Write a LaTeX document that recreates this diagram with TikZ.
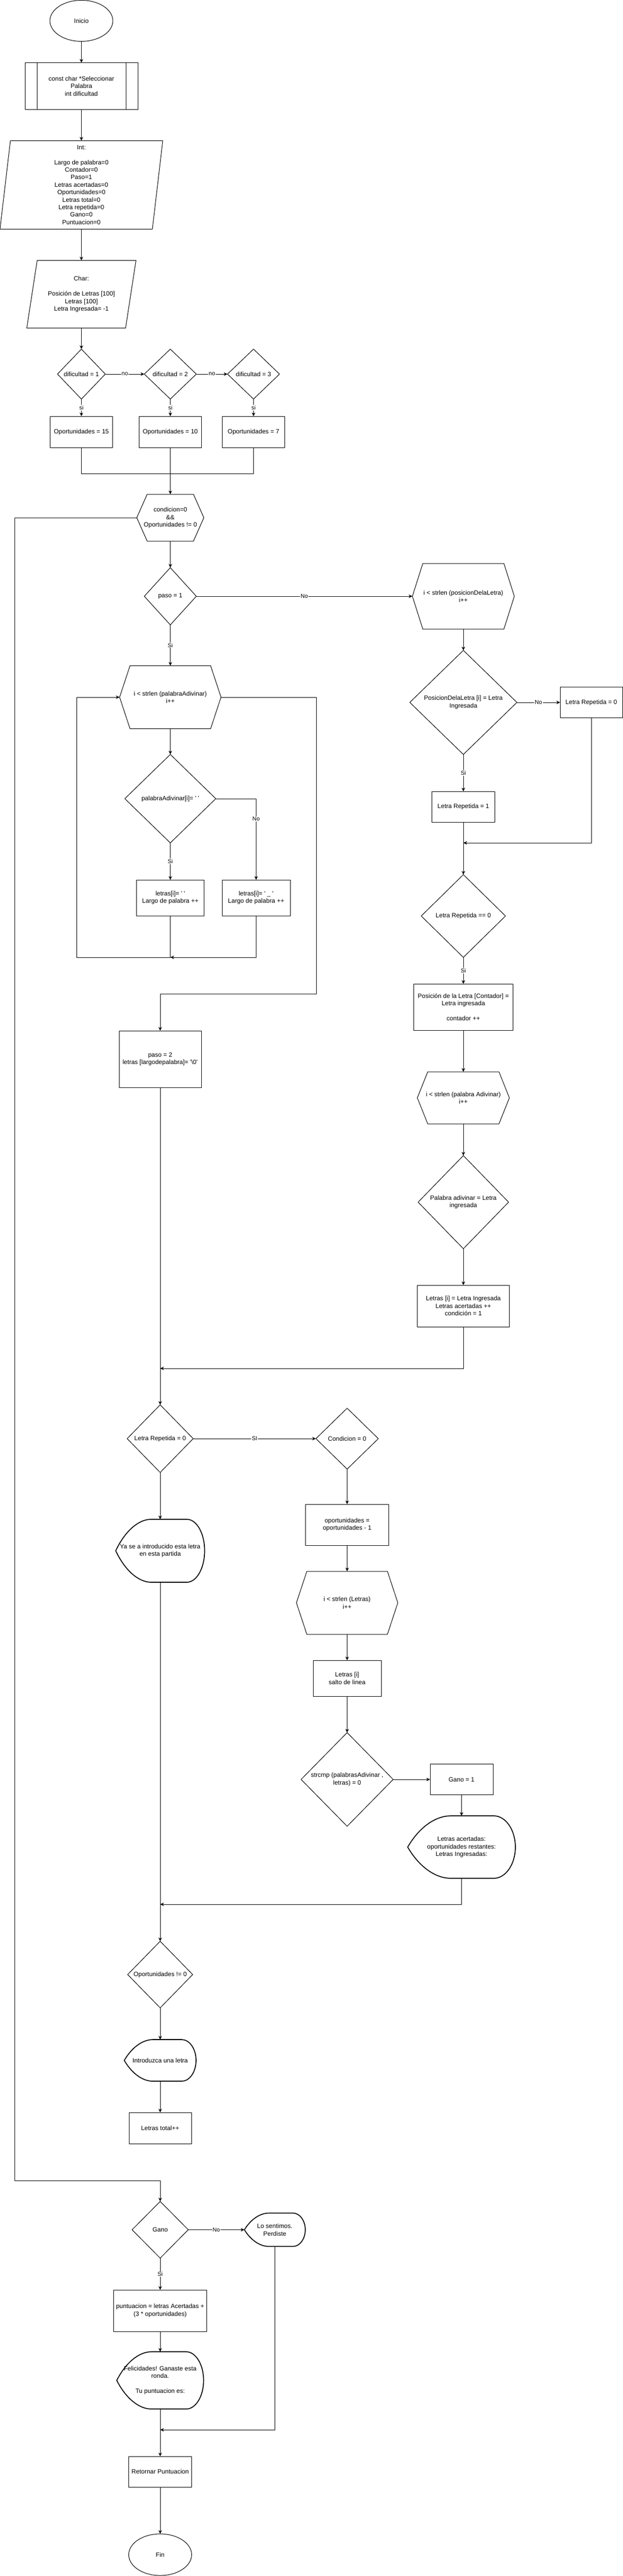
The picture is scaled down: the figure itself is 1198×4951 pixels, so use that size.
\documentclass[tikz,border=0pt]{standalone}
\usepackage{fontspec}
\setmainfont{Liberation Sans}
\usetikzlibrary{arrows.meta,shapes.geometric,calc}
\newcommand\sq{\textquotesingle}
\tikzset{
  base/.style={inner sep=0pt, outer sep=0pt, font=\fontsize{12pt}{14.4pt}\selectfont, align=center, text=black},
  sz/.style 2 args={minimum width=#1pt, minimum height=#2pt},
  boxst/.style={base, rectangle, draw, line width=1pt},
  bare/.style={base, rectangle},
  elli/.style={base, ellipse, draw, line width=1pt},
  shp/.style={line width=1pt, line join=miter},
  dispst/.style={line width=1.7pt},
  ln/.style={line width=1pt},
  arr/.style={line width=1pt, -{Stealth[length=7pt,width=6.5pt,inset=2pt]}},
  lbl/.style={font=\fontsize{11pt}{13pt}\selectfont, fill=white, inner sep=1pt, text=black},
}
\newcommand\diaout[1]{\draw[shp] (#1.west) -- (#1.north) -- (#1.east) -- (#1.south) -- cycle;}
\newcommand\hexout[1]{\draw[shp] (#1.west) -- ([xshift=20pt]#1.north west) -- ([xshift=-20pt]#1.north east) -- (#1.east) -- ([xshift=-20pt]#1.south east) -- ([xshift=20pt]#1.south west) -- cycle;}
\newcommand\parout[1]{\draw[shp] ([xshift=20pt]#1.north west) -- (#1.north east) -- ([xshift=-20pt]#1.south east) -- (#1.south west) -- cycle;}
\newcommand\dispnode[6]{%
  \node[bare, sz={#4}{#5}] (#1) at (#2,#3) {#6};
  \begin{scope}[shift={({#2-#4/2},{#3-#5/2})}, x=#4pt, y=-#5pt]
    \draw[dispst] (0,0.5) .. controls (0.1,0.2) and (0.25,0) .. (0.4,0) -- (0.8,0)
      .. controls (0.91,0) and (1,0.224) .. (1,0.5) .. controls (1,0.776) and (0.91,1) .. (0.8,1)
      -- (0.4,1) .. controls (0.25,1) and (0.1,0.8) .. (0,0.5) -- cycle;
  \end{scope}}
\begin{document}
\begin{tikzpicture}[x=1pt,y=-1pt]
\fill[white] (0,0) rectangle (1198,4951);
\useasboundingbox (0,0) rectangle (1198,4951);

% ---------- top column ----------
\node[elli, sz={121}{79}] (inicio) at (156.5,40) {Inicio};
\node[boxst, sz={217}{90}] (sub) at (156.5,165.5) {const char *Seleccionar\\Palabra\\int dificultad};
\draw[ln] ([xshift=23pt]sub.north west) -- ([xshift=23pt]sub.south west);
\draw[ln] ([xshift=-23pt]sub.north east) -- ([xshift=-23pt]sub.south east);
\node[bare, sz={313}{170}] (int) at (156.5,355.3) {Int:\\[14.4pt]Largo de palabra=0\\Contador=0\\Paso=1\\Letras acertadas=0\\Oportunidades=0\\Letras total=0\\Letra repetida=0\\Gano=0\\Puntuacion=0};
\parout{int}
\node[bare, sz={210}{130}] (char) at (156.5,565.5) {Char:\\[14.4pt]Posición de Letras [100]\\Letras [100]\\Letra Ingresada= -1};
\parout{char}

\node[bare, sz={92}{96}] (d1) at (156.5,719) {dificultad = 1}; \diaout{d1}
\node[bare, sz={100}{96}] (d2) at (327.5,719) {dificultad = 2}; \diaout{d2}
\node[bare, sz={100}{96}] (d3) at (487.5,719) {dificultad = 3}; \diaout{d3}
\node[boxst, sz={120}{60}] (o15) at (156.5,830) {Oportunidades = 15};
\node[boxst, sz={120}{60}] (o10) at (327.5,830) {Oportunidades = 10};
\node[boxst, sz={120}{60}] (o7) at (487.5,830) {Oportunidades = 7};
\coordinate (m1) at (327.5,910);

\node[bare, sz={129}{90}] (cond) at (327.5,995) {condicion=0\\\&\&\\Oportunidades != 0}; \hexout{cond}
\node[bare, sz={100}{110}] (paso1) at (327.5,1146) {paso = 1}; \diaout{paso1}
\node[bare, sz={195}{121}] (hexL) at (327.5,1340) {i < strlen (palabraAdivinar)\\i++}; \hexout{hexL}
\node[bare, sz={175}{170}] (pal) at (327.5,1535) {palabraAdivinar[i]= \sq\ \sq}; \diaout{pal}
\node[boxst, sz={130}{69}] (b1) at (327.5,1725.5) {letras[i]= \sq\ \sq\\Largo de palabra ++};
\node[boxst, sz={131}{69}] (b2) at (492.5,1725.5) {letras[i]= \sq\ \_\ \sq\\Largo de palabra ++};
\node[boxst, sz={158}{109}] (paso2) at (308,2035.5) {paso = 2\\letras [largodepalabra]= \sq\textbackslash 0\sq};

% ---------- right column ----------
\node[bare, sz={196}{126}] (hexR) at (891,1146) {i < strlen (posicionDelaLetra)\\i++}; \hexout{hexR}
\node[bare, sz={206}{200}] (posL) at (891,1350) {PosicionDelaLetra [i] = Letra\\Ingresada}; \diaout{posL}
\node[boxst, sz={120}{59}] (lr0) at (1137,1350) {Letra Repetida = 0};
\node[boxst, sz={121}{59}] (lr1) at (891,1550.5) {Letra Repetida = 1};
\node[bare, sz={162}{159}] (lreq) at (891,1760.5) {Letra Repetida == 0}; \diaout{lreq}
\node[boxst, sz={191}{89}] (posbox) at (891,1935.5) {Posición de la Letra [Contador] =\\Letra ingresada\\[14.4pt]contador ++};
\node[bare, sz={177}{100}] (hexR2) at (891,2110) {i < strlen (palabra Adivinar)\\i++}; \hexout{hexR2}
\node[bare, sz={174}{179}] (padiv) at (891,2310.5) {Palabra adivinar = Letra\\ingresada}; \diaout{padiv}
\node[boxst, sz={177}{80}] (letb) at (891,2510) {Letras [i] = Letra Ingresada\\Letras acertadas ++\\condición = 1};

% ---------- lower part ----------
\node[bare, sz={127}{130}] (lrc) at (308,2765) {Letra Repetida = 0}; \diaout{lrc}
\node[bare, sz={120}{117}] (c0) at (667.5,2765) {Condicion = 0}; \diaout{c0}
\dispnode{yase}{308}{2980.5}{171}{121}{Ya se a introducido esta letra\\en esta partida}
\node[boxst, sz={160}{79}] (opb) at (667.5,2930.5) {oportunidades =\\oportunidades - 1};
\node[bare, sz={195}{121}] (hexLt) at (667.5,3080.5) {i < strlen (Letras)\\i++}; \hexout{hexLt}
\node[boxst, sz={131}{69}] (salto) at (667.5,3225.5) {Letras [i]\\salto de linea};
\node[bare, sz={177}{180}] (strc) at (667.5,3420) {strcmp (palabrasAdivinar ,\\letras) = 0}; \diaout{strc}
\node[boxst, sz={121}{59}] (g1) at (887.5,3420) {Gano = 1};
\dispnode{acert}{887.5}{3550}{207}{120}{Letras acertadas:\\oportunidades restantes:\\Letras Ingresadas:}
\node[bare, sz={125}{128}] (opn) at (308,3795) {Oportunidades != 0}; \diaout{opn}
\dispnode{intro}{308}{3960}{138}{80}{Introduzca una letra}
\node[boxst, sz={120}{60}] (tot) at (308,4090) {Letras total++};
\node[bare, sz={108}{109}] (gano) at (308,4285.5) {Gano}; \diaout{gano}
\dispnode{perd}{528.5}{4285.5}{117}{64}{Lo sentimos.\\Perdiste}
\node[boxst, sz={179}{80}] (punt) at (308,4441) {puntuacion = letras Acertadas +\\(3 * oportunidades)};
\dispnode{felic}{308}{4575}{167}{110}{Felicidades! Ganaste esta\\ronda.\\[14.4pt]Tu puntuacion es:}
\node[boxst, sz={121}{59}] (ret) at (308,4750.5) {Retornar Puntuacion};
\node[elli, sz={121}{80}] (fin) at (308,4910) {Fin};

% ---------- connectors ----------
\draw[arr] (inicio.south) -- (sub.north);
\draw[arr] (sub.south) -- (int.north);
\draw[arr] (int.south) -- (char.north);
\draw[arr] (char.south) -- (d1.north);
\draw[arr] (d1.east) -- node[lbl] (ln1) {no} (d2.west);
\draw[arr] (d2.east) -- node[lbl] (ln2) {no} (d3.west);
\draw[arr] (d1.south) -- node[lbl] (ls1) {si} (o15.north);
\draw[arr] (d2.south) -- node[lbl] (ls2) {si} (o10.north);
\draw[arr] (d3.south) -- node[lbl] (ls3) {si} (o7.north);
\draw[ln] (o15.south) |- (m1);
\draw[ln] (o7.south) |- (m1);
\draw[arr] (o10.south) -- (cond.north);
\draw[arr] (cond.south) -- (paso1.north);
\coordinate (lp) at (28,4191);
\draw[arr] (cond.west) -| (lp) -| (gano.north);
\draw[arr] (paso1.east) -- node[lbl] (lno1) {No} (hexR.west);
\draw[arr] (paso1.south) -- node[lbl] (lsi1) {Si} (hexL.north);
\draw[arr] (hexL.south) -- (pal.north);
\draw[arr] (pal.south) -- node[lbl] (lsi2) {Si} (b1.north);
\draw[arr] (pal.east) -| node[lbl, pos=0.625] (lno2) {No} (b2.north);
\coordinate (m2) at (327.5,1840);
\coordinate (lp2) at (147,1840);
\draw[arr] (b2.south) |- (m2);
\draw[arr] (b1.south) -- (m2) -- (lp2) |- (hexL.west);
\coordinate (rp) at (608,1910);
\draw[arr] (hexL.east) -| (rp) -| (paso2.north);
\draw[arr] (paso2.south) -- (lrc.north);

\draw[arr] (hexR.south) -- (posL.north);
\draw[arr] (posL.east) -- node[lbl] (lno3) {No} (lr0.west);
\draw[arr] (posL.south) -- node[lbl] (lsi3) {Si} (lr1.north);
\draw[arr] (lr1.south) -- (lreq.north);
\coordinate (m3) at (891,1620);
\draw[arr] (lr0.south) |- (m3);
\draw[arr] (lreq.south) -- node[lbl] (lsi4) {Si} (posbox.north);
\draw[arr] (posbox.south) -- (hexR2.north);
\draw[arr] (hexR2.south) -- (padiv.north);
\draw[arr] (padiv.south) -- (letb.north);
\coordinate (m4) at (308,2630);
\draw[arr] (letb.south) |- (m4);

\draw[arr] (lrc.east) -- node[lbl] (lsi5) {SI} (c0.west);
\draw[arr] (lrc.south) -- (yase.north);
\draw[arr] (c0.south) -- (opb.north);
\draw[arr] (opb.south) -- (hexLt.north);
\draw[arr] (hexLt.south) -- (salto.north);
\draw[arr] (salto.south) -- (strc.north);
\draw[arr] (strc.east) -- (g1.west);
\draw[arr] (g1.south) -- (acert.north);
\coordinate (m5) at (308,3660);
\draw[arr] (acert.south) |- (m5);
\draw[arr] (yase.south) -- (opn.north);
\draw[arr] (opn.south) -- (intro.north);
\draw[arr] (intro.south) -- (tot.north);
\draw[arr] (gano.east) -- node[lbl] (lno4) {No} (perd.west);
\draw[arr] (gano.south) -- node[lbl] (lsi6) {Si} (punt.north);
\draw[arr] (punt.south) -- (felic.north);
\draw[arr] (felic.south) -- (ret.north);
\coordinate (m6) at (308,4670);
\draw[arr] (perd.south) |- (m6);
\draw[arr] (ret.south) -- (fin.north);
\end{tikzpicture}
\end{document}
